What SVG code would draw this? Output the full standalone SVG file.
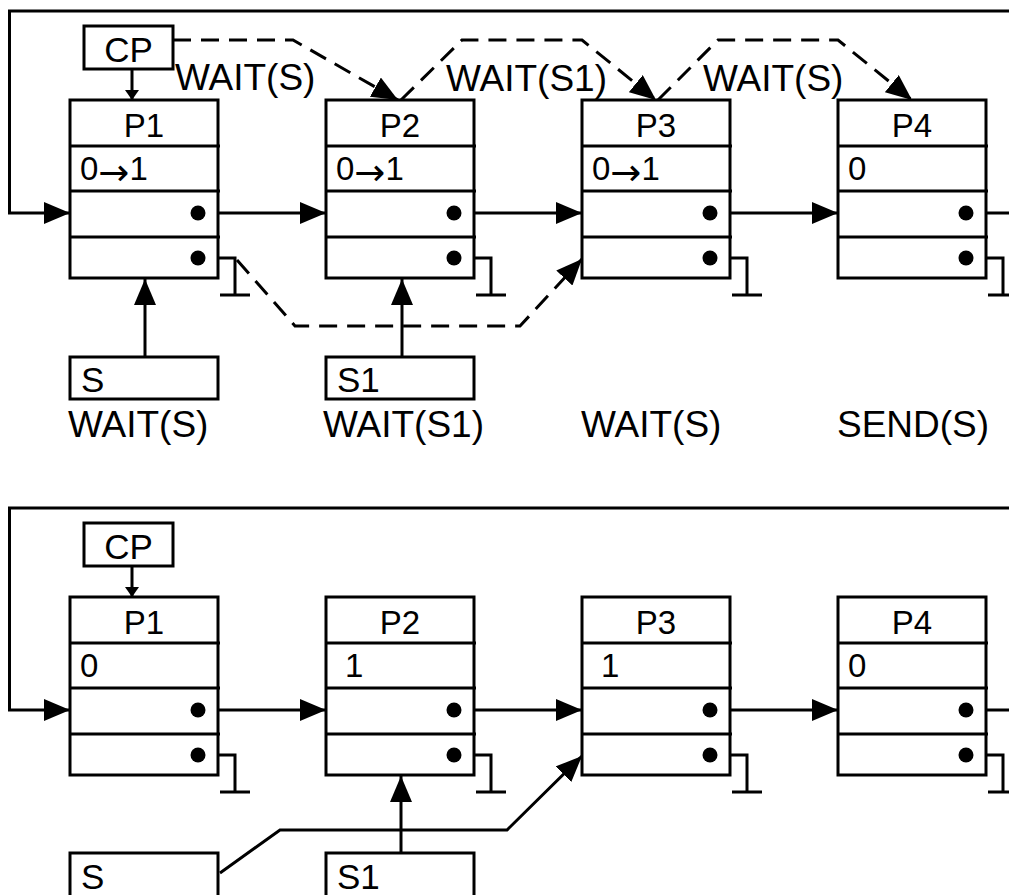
<svg xmlns="http://www.w3.org/2000/svg" width="1009" height="895" viewBox="0 0 1009 895">
<defs>
<style>
.ln{fill:none;stroke:#000;stroke-width:3}
.ds{fill:none;stroke:#000;stroke-width:3;stroke-dasharray:18 10}
.bx{fill:#fff;stroke:#000;stroke-width:3}
.t{font-family:"Liberation Sans",Arial,sans-serif;font-size:33px;fill:#000}
.cp{font-family:"Liberation Sans",Arial,sans-serif;font-size:35px;fill:#000}
.sx{font-family:"Liberation Sans",Arial,sans-serif;font-size:35px;fill:#000}
.lb{font-family:"Liberation Sans",Arial,sans-serif;font-size:37px;fill:#000}
.ar{font-family:"DejaVu Sans",sans-serif;font-size:37px}
.dot{fill:#000}
</style>
<marker id="ah" markerUnits="userSpaceOnUse" markerWidth="27" markerHeight="22" refX="26" refY="11" orient="auto" viewBox="0 0 27 22"><path d="M0,0 L26,11 L0,22 z" fill="#000"/></marker>
<marker id="sm" markerUnits="userSpaceOnUse" markerWidth="11" markerHeight="14" refX="10" refY="7" orient="auto" viewBox="0 0 11 14"><path d="M0,0 L10,7 L0,14 z" fill="#000"/></marker>
</defs>

<!-- ===== TOP DIAGRAM ===== -->
<g id="top-connectors">
<path class="ln" d="M1009,11 H9.5 V213 H70" marker-end="url(#ah)"/>
<path class="ln" d="M132,69 V100" marker-end="url(#sm)"/>
<path class="ln" d="M198,213 H326" marker-end="url(#ah)"/>
<path class="ln" d="M454,213 H582" marker-end="url(#ah)"/>
<path class="ln" d="M710,213 H838" marker-end="url(#ah)"/>
<path class="ln" d="M966,213 H1009"/>
<path class="ln" d="M198,258 H235 V295 M220,295 H250"/>
<path class="ln" d="M454,258 H491 V295 M476,295 H506"/>
<path class="ln" d="M710,258 H747 V295 M732,295 H762"/>
<path class="ln" d="M966,258 H1003 V295 M988,295 H1018"/>
<path class="ln" d="M145,371 V279" marker-end="url(#ah)"/>
<path class="ln" d="M402,371 V279" marker-end="url(#ah)"/>
<path class="ds" d="M173,40 H293 L398,100" marker-end="url(#ah)"/>
<path class="ds" d="M401,100 L462,40 H582 L656,100" marker-end="url(#ah)"/>
<path class="ds" d="M658,100 L718,40 H838 L912,100" marker-end="url(#ah)"/>
<path class="ds" d="M237,260 L295,326 H520 L582,259" marker-end="url(#ah)"/>
</g>

<g id="top-cp">
<rect class="bx" x="84" y="26" width="89" height="43"/>
<text class="cp" x="128.5" y="62" text-anchor="middle">CP</text>
</g>

<g id="top-p1">
<rect class="bx" x="70" y="100" width="148" height="178"/>
<path class="ln" d="M70,146 H220 M70,191 H220 M70,237 H220"/>
<text class="t" x="144" y="137" text-anchor="middle">P1</text>
<text class="t" x="80" y="180">0<tspan class="ar" dy="5">→</tspan><tspan dy="-5">1</tspan></text>
<circle class="dot" cx="198" cy="213" r="7.5"/>
<circle class="dot" cx="198" cy="258" r="7.5"/>
</g>
<g id="top-p2">
<rect class="bx" x="326" y="100" width="148" height="178"/>
<path class="ln" d="M326,146 H476 M326,191 H476 M326,237 H476"/>
<text class="t" x="400" y="137" text-anchor="middle">P2</text>
<text class="t" x="336" y="180">0<tspan class="ar" dy="5">→</tspan><tspan dy="-5">1</tspan></text>
<circle class="dot" cx="454" cy="213" r="7.5"/>
<circle class="dot" cx="454" cy="258" r="7.5"/>
</g>
<g id="top-p3">
<rect class="bx" x="582" y="100" width="148" height="178"/>
<path class="ln" d="M582,146 H732 M582,191 H732 M582,237 H732"/>
<text class="t" x="656" y="137" text-anchor="middle">P3</text>
<text class="t" x="592" y="180">0<tspan class="ar" dy="5">→</tspan><tspan dy="-5">1</tspan></text>
<circle class="dot" cx="710" cy="213" r="7.5"/>
<circle class="dot" cx="710" cy="258" r="7.5"/>
</g>
<g id="top-p4">
<rect class="bx" x="838" y="100" width="148" height="178"/>
<path class="ln" d="M838,146 H988 M838,191 H988 M838,237 H988"/>
<text class="t" x="912" y="137" text-anchor="middle">P4</text>
<text class="t" x="848" y="180">0</text>
<circle class="dot" cx="966" cy="213" r="7.5"/>
<circle class="dot" cx="966" cy="258" r="7.5"/>
</g>
<g id="top-s">
<rect class="bx" x="70" y="357" width="148" height="42"/>
<text class="sx" x="81" y="392">S</text>
</g>
<g id="top-s1">
<rect class="bx" x="326" y="357" width="148" height="42"/>
<text class="sx" x="337" y="392">S1</text>
</g>
<g id="top-labels">
<text class="lb" x="175" y="90">WAIT(S)</text>
<text class="lb" x="446" y="91">WAIT(S1)</text>
<text class="lb" x="703" y="91">WAIT(S)</text>
<text class="lb" x="68" y="437">WAIT(S)</text>
<text class="lb" x="323" y="437">WAIT(S1)</text>
<text class="lb" x="581" y="437">WAIT(S)</text>
<text class="lb" x="837" y="437">SEND(S)</text>
</g>

<!-- ===== BOTTOM DIAGRAM ===== -->
<g id="bottom-connectors">
<path class="ln" d="M1009,508 H9.5 V710 H70" marker-end="url(#ah)"/>
<path class="ln" d="M132,566 V597" marker-end="url(#sm)"/>
<path class="ln" d="M198,710 H326" marker-end="url(#ah)"/>
<path class="ln" d="M454,710 H582" marker-end="url(#ah)"/>
<path class="ln" d="M710,710 H838" marker-end="url(#ah)"/>
<path class="ln" d="M966,710 H1009"/>
<path class="ln" d="M198,755 H235 V792 M220,792 H250"/>
<path class="ln" d="M454,755 H491 V792 M476,792 H506"/>
<path class="ln" d="M710,755 H747 V792 M732,792 H762"/>
<path class="ln" d="M966,755 H1003 V792 M988,792 H1018"/>
<path class="ln" d="M401,868 V776" marker-end="url(#ah)"/>
<path class="ln" d="M220,873 L280,830 H507 L582,756" marker-end="url(#ah)"/>
</g>
<g id="bottom-cp">
<rect class="bx" x="84" y="523" width="89" height="43"/>
<text class="cp" x="128.5" y="559" text-anchor="middle">CP</text>
</g>
<g id="bottom-p1">
<rect class="bx" x="70" y="597" width="148" height="178"/>
<path class="ln" d="M70,643 H220 M70,688 H220 M70,734 H220"/>
<text class="t" x="144" y="634" text-anchor="middle">P1</text>
<text class="t" x="80" y="677">0</text>
<circle class="dot" cx="198" cy="710" r="7.5"/>
<circle class="dot" cx="198" cy="755" r="7.5"/>
</g>
<g id="bottom-p2">
<rect class="bx" x="326" y="597" width="148" height="178"/>
<path class="ln" d="M326,643 H476 M326,688 H476 M326,734 H476"/>
<text class="t" x="400" y="634" text-anchor="middle">P2</text>
<text class="t" x="345" y="677">1</text>
<circle class="dot" cx="454" cy="710" r="7.5"/>
<circle class="dot" cx="454" cy="755" r="7.5"/>
</g>
<g id="bottom-p3">
<rect class="bx" x="582" y="597" width="148" height="178"/>
<path class="ln" d="M582,643 H732 M582,688 H732 M582,734 H732"/>
<text class="t" x="656" y="634" text-anchor="middle">P3</text>
<text class="t" x="601" y="677">1</text>
<circle class="dot" cx="710" cy="710" r="7.5"/>
<circle class="dot" cx="710" cy="755" r="7.5"/>
</g>
<g id="bottom-p4">
<rect class="bx" x="838" y="597" width="148" height="178"/>
<path class="ln" d="M838,643 H988 M838,688 H988 M838,734 H988"/>
<text class="t" x="912" y="634" text-anchor="middle">P4</text>
<text class="t" x="848" y="677">0</text>
<circle class="dot" cx="966" cy="710" r="7.5"/>
<circle class="dot" cx="966" cy="755" r="7.5"/>
</g>
<g id="bottom-s">
<rect class="bx" x="70" y="853" width="148" height="60"/>
<text class="sx" x="81" y="889">S</text>
</g>
<g id="bottom-s1">
<rect class="bx" x="326" y="853" width="148" height="60"/>
<text class="sx" x="337" y="889">S1</text>
</g>
</svg>
